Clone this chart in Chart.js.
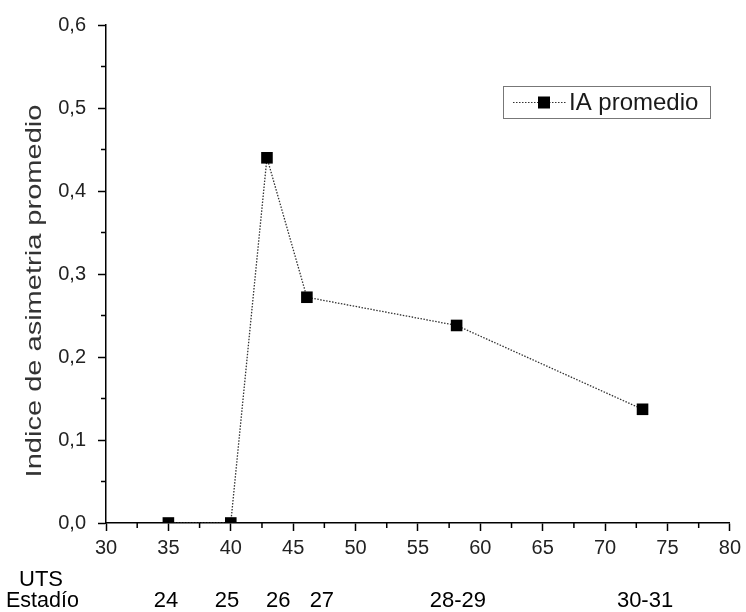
<!DOCTYPE html>
<html lang="es">
<head>
    <meta charset="UTF-8">
    <title>Indice de asimetria promedio</title>
    <style>
        html, body { margin: 0; padding: 0; background: #fff; }
        #wrap { width: 746px; height: 612px; }
    </style>
</head>
<body>
    <div id="wrap"><canvas id="chart" width="746" height="612"></canvas></div>

    <script src="https://cdn.jsdelivr.net/npm/chart.js"></script>
    <script>
        // datos
        const utsValues = [35, 40, 42.9, 46.1, 58.1, 73.0];
        const iaValues = [0, 0, 0.44, 0.272, 0.238, 0.137];
        const seriesLabel = "IA promedio";
        const stageLabels = ["24", "25", "26", "27", "28-29", "30-31"];
        const stagePositions = [34.8, 39.7, 43.8, 47.3, 58.2, 73.2];
        const xTitle = "UTS";
        const stageTitle = "Estadío";
        const yTitle = "Indice de asimetria promedio";

        const FONT = "'Liberation Sans', Arial, sans-serif";

        // ticks menores, títulos, estadíos y leyenda
        const extras = {
            id: "extras",
            afterDraw(chart) {
                const ctx = chart.ctx;
                const x = chart.scales.x;
                const y = chart.scales.y;
                const area = chart.chartArea;
                ctx.save();
                ctx.strokeStyle = "#000";
                ctx.lineWidth = 1.5;
                ctx.beginPath();
                for (let v = 32.5; v < 80; v += 5) {
                    const px = x.getPixelForValue(v);
                    ctx.moveTo(px, area.bottom);
                    ctx.lineTo(px, area.bottom + 5);
                }
                for (let v = 0.05; v < 0.6; v += 0.1) {
                    const py = y.getPixelForValue(v);
                    ctx.moveTo(area.left, py);
                    ctx.lineTo(area.left - 5, py);
                }
                ctx.stroke();

                ctx.fillStyle = "#000";
                ctx.font = "22px " + FONT;
                ctx.textBaseline = "middle";
                ctx.textAlign = "left";
                ctx.fillText(xTitle, 19, 580);
                ctx.font = "21.5px " + FONT;
                ctx.fillText(stageTitle, 6, 601);
                ctx.font = "22px " + FONT;
                ctx.textAlign = "center";
                stageLabels.forEach((lab, i) => {
                    ctx.fillText(lab, x.getPixelForValue(stagePositions[i]), 601);
                });

                // título del eje y (estirado como en la figura original)
                ctx.save();
                ctx.translate(35, 291);
                ctx.rotate(-Math.PI / 2);
                ctx.scale(1.32, 1);
                ctx.font = "22px " + FONT;
                ctx.fillStyle = "#333";
                ctx.fillText(yTitle, 0, 0);
                ctx.restore();

                // leyenda
                const bx = 503, by = 86, bw = 207, bh = 32;
                ctx.strokeStyle = "#777";
                ctx.lineWidth = 1;
                ctx.strokeRect(bx + 0.5, by + 0.5, bw, bh);
                const cy = by + bh / 2 + 0.5;
                ctx.strokeStyle = "#333";
                ctx.setLineDash([1.5, 1.5]);
                ctx.beginPath();
                ctx.moveTo(513, cy);
                ctx.lineTo(567, cy);
                ctx.stroke();
                ctx.setLineDash([]);
                ctx.fillStyle = "#000";
                ctx.fillRect(538, cy - 6, 12, 12);
                ctx.font = "24px " + FONT;
                ctx.textAlign = "left";
                ctx.fillStyle = "#1a1a1a";
                ctx.fillText(seriesLabel, 569, cy + 1);
                ctx.restore();
            }
        };

        const ctx = document.getElementById("chart").getContext("2d");

        new Chart(ctx, {
            type: "scatter",
            data: {
                datasets: [
                    {
                        label: seriesLabel,
                        data: utsValues.map((v, i) => ({ x: v, y: iaValues[i] })),
                        showLine: true,
                        borderColor: "#333",
                        borderWidth: 1.3,
                        borderDash: [1.5, 1.5],
                        pointStyle: "rect",
                        pointRadius: 8.2,
                        pointHoverRadius: 8.2,
                        pointBackgroundColor: "#000",
                        pointBorderColor: "#000",
                        pointBorderWidth: 0,
                    },
                ],
            },
            options: {
                responsive: false,
                animation: false,
                events: [],
                layout: { padding: { left: 0, right: 11, top: 25, bottom: 0 } },
                plugins: {
                    legend: { display: false },
                    tooltip: { enabled: false },
                },
                scales: {
                    x: {
                        type: "linear",
                        min: 30,
                        max: 80,
                        afterFit: (s) => { s.height = 89; },
                        ticks: {
                            stepSize: 5,
                            color: "#222",
                            padding: 5,
                            font: { size: 20, family: FONT },
                        },
                        grid: { drawOnChartArea: false, tickLength: 8, color: "#000", tickWidth: 1.5 },
                        border: { color: "#000", width: 1.5 },
                    },
                    y: {
                        min: 0,
                        max: 0.6,
                        afterFit: (s) => { s.width = 106; },
                        ticks: {
                            stepSize: 0.1,
                            color: "#222",
                            padding: 12,
                            font: { size: 20, family: FONT },
                            callback: (v) => v.toFixed(1).replace(".", ","),
                        },
                        grid: { drawOnChartArea: false, tickLength: 8, color: "#000", tickWidth: 1.5 },
                        border: { color: "#000", width: 1.5 },
                    },
                },
            },
            plugins: [extras],
        });
    </script>
</body>
</html>
